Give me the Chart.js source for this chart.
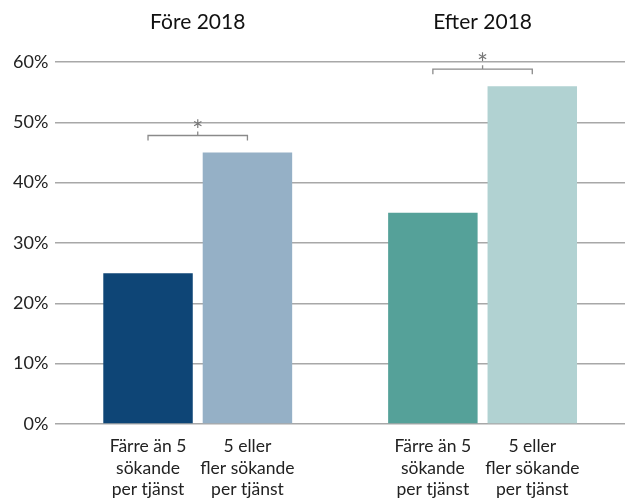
<!DOCTYPE html>
<html>
<head>
<meta charset="utf-8">
<script src="https://cdn.jsdelivr.net/npm/chart.js@4"></script>
<style>
  html, body { margin: 0; padding: 0; background: #fff; }
  #wrap { width: 627px; height: 501px; }
</style>
</head>
<body>
<div id="wrap"><canvas id="myChart" width="627" height="501"></canvas></div>
<script>
var periods = ["Före 2018", "Efter 2018"];
var fewApplicants = [25, 35];
var manyApplicants = [45, 56];
var barLabels = [
  ["Färre än 5", "sökande", "per tjänst"],
  ["5 eller", "fler sökande", "per tjänst"]
];
var significance = ["*", "*"];
var yTicks = [0, 10, 20, 30, 40, 50, 60];

var fontName = "Lato, 'Open Sans', sans-serif";

// period titles, text under each bar and the significance brackets
var extrasPlugin = {
  id: "extras",
  afterDraw: function (chart) {
    var c = chart.ctx;
    var x = chart.scales.x;
    var y = chart.scales.y;
    var area = chart.chartArea;
    c.save();
    c.textAlign = "center";
    c.textBaseline = "middle";
    c.fillStyle = "#111";
    c.font = "21px " + fontName;
    periods.forEach(function (p, i) {
      c.fillText(p, x.getPixelForValue(i), area.top - 40);
    });

    c.textBaseline = "alphabetic";
    c.fillStyle = "#222";
    c.font = "17.5px " + fontName;
    chart.data.datasets.forEach(function (ds, di) {
      chart.getDatasetMeta(di).data.forEach(function (bar) {
        barLabels[di].forEach(function (line, li) {
          c.fillText(line, bar.x, area.bottom + 28 + li * 21.5);
        });
      });
    });

    var m0 = chart.getDatasetMeta(0).data;
    var m1 = chart.getDatasetMeta(1).data;
    for (var i = 0; i < periods.length; i++) {
      var top = Math.max(fewApplicants[i], manyApplicants[i]);
      var by = y.getPixelForValue(top) - 17;
      var x0 = m0[i].x, x1 = m1[i].x, xm = (x0 + x1) / 2;
      c.strokeStyle = "#8a8a8a";
      c.lineWidth = 1.3;
      c.beginPath();
      c.moveTo(x0, by + 5);
      c.lineTo(x0, by);
      c.lineTo(x1, by);
      c.lineTo(x1, by + 5);
      c.moveTo(xm, by);
      c.lineTo(xm, by - 4);
      c.stroke();
      c.fillStyle = "#777";
      c.font = "26px " + fontName;
      c.fillText(significance[i], xm, by + 4);
    }
    c.restore();
  }
};

var ctx = document.getElementById("myChart").getContext("2d");
var chart = new Chart(ctx, {
  type: "bar",
  data: {
    labels: periods,
    datasets: [
      {
        label: barLabels[0].join(" "),
        data: fewApplicants,
        backgroundColor: ["rgb(14, 69, 118)", "rgb(85, 161, 153)"]
      },
      {
        label: barLabels[1].join(" "),
        data: manyApplicants,
        backgroundColor: ["rgb(149, 176, 198)", "rgb(177, 210, 210)"]
      }
    ]
  },
  options: {
    responsive: false,
    animation: false,
    categoryPercentage: 0.698,
    barPercentage: 0.9,
    layout: { padding: { left: 6, right: 2, top: 62, bottom: 77 } },
    plugins: {
      legend: { display: false },
      tooltip: { enabled: false }
    },
    scales: {
      x: {
        display: false
      },
      y: {
        min: 0,
        max: 60,
        afterBuildTicks: function (axis) {
          axis.ticks = yTicks.map(function (v) { return { value: v }; });
        },
        grid: { color: "#a8a8a8", lineWidth: 1.6, drawTicks: false },
        border: { display: false },
        ticks: {
          color: "#222",
          padding: 7,
          font: { family: fontName, size: 18 },
          callback: function (v) { return v + "%"; }
        }
      }
    }
  },
  plugins: [extrasPlugin]
});
</script>
</body>
</html>
